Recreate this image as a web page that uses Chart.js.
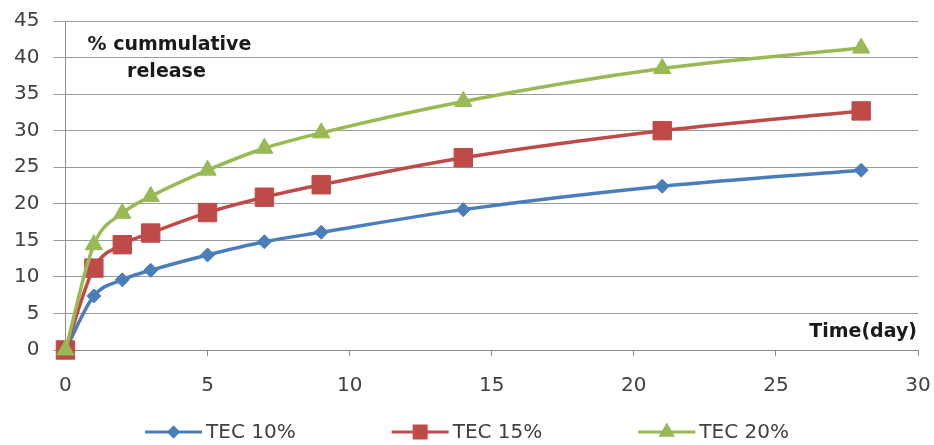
<!DOCTYPE html>
<html>
<head>
<meta charset="utf-8">
<script src="https://cdn.jsdelivr.net/npm/chart.js@4.4.1/dist/chart.umd.min.js"></script>
<style>
  html, body { margin: 0; padding: 0; background: #fff; }
  #wrap { width: 934px; height: 445px; }
</style>
</head>
<body>
<div id="wrap"><canvas id="chart"></canvas></div>
<script>
const days = [0, 1, 2, 3, 5, 7, 9, 14, 21, 28];
const tec10 = [0, 7.4, 9.6, 10.9, 13.0, 14.8, 16.1, 19.2, 22.4, 24.6];
const tec15 = [0, 11.2, 14.4, 16.0, 18.8, 20.9, 22.6, 26.3, 30.0, 32.7];
const tec20 = [0, 14.4, 18.7, 21.0, 24.6, 27.6, 29.7, 34.0, 38.5, 41.3];
const seriesNames = ["TEC 10%", "TEC 15%", "TEC 20%"];
const xTicks = [0, 5, 10, 15, 20, 25, 30];
const yTicks = [0, 5, 10, 15, 20, 25, 30, 35, 40, 45];

const FONT = "'DejaVu Sans', sans-serif";
const TEXT = "#404040";
const colors = ["#4a7ebb", "#be4b48", "#98b954"];
const styles = [
  { pointStyle: "rectRot", radius: 7 },
  { pointStyle: "rect", radius: 13 },
  { pointStyle: "triangle", radius: 10 }
];

function toPoints(vals) {
  return days.map((d, i) => ({ x: d, y: vals[i] }));
}

// axis captions sit inside the plot, like the original
const axisLabels = {
  id: "axisLabels",
  afterDraw(chart) {
    const { ctx, chartArea } = chart;
    ctx.save();
    ctx.fillStyle = "#1a1a1a";
    ctx.font = "bold 19px " + FONT;
    ctx.textAlign = "center";
    ctx.textBaseline = "middle";
    ctx.fillText("% cummulative", chartArea.left + 104, chartArea.top + 24);
    ctx.fillText("release", chartArea.left + 101, chartArea.top + 51);
    ctx.textAlign = "right";
    ctx.fillText("Time(day)", chartArea.right - 1, chartArea.bottom - 18);
    ctx.restore();
  }
};

// legend with line + marker swatches, spread across the bottom
const lineLegend = {
  id: "lineLegend",
  afterDraw(chart) {
    const { ctx, width, height } = chart;
    const swatch = 57, gap = 4, spacing = 96;
    ctx.save();
    ctx.font = "20px " + FONT;
    ctx.textBaseline = "middle";
    const items = chart.data.datasets.map((ds) => ({
      ds, w: swatch + gap + ctx.measureText(ds.label).width
    }));
    const total = items.reduce((s, it) => s + it.w, 0) + spacing * (items.length - 1);
    let x = (width - total) / 2;
    const y = height - 13;
    items.forEach((it, i) => {
      const c = it.ds.borderColor;
      ctx.strokeStyle = c;
      ctx.fillStyle = c;
      ctx.lineWidth = 3;
      ctx.beginPath();
      ctx.moveTo(x, y);
      ctx.lineTo(x + swatch, y);
      ctx.stroke();
      Chart.helpers.drawPoint(ctx, {
        pointStyle: styles[i].pointStyle,
        radius: styles[i].radius * 0.65,
        rotation: 0,
        borderWidth: 1
      }, x + swatch / 2, y);
      ctx.fillStyle = TEXT;
      ctx.fillText(it.ds.label, x + swatch + gap, y + 1);
      x += it.w + spacing;
    });
    ctx.restore();
  }
};

const datasets = [tec10, tec15, tec20].map((vals, i) => ({
  label: seriesNames[i],
  data: toPoints(vals),
  order: 2 - i, // later series painted on top, as in the original
  clip: false,
  showLine: true,
  borderColor: colors[i],
  backgroundColor: colors[i],
  borderWidth: 3.5,
  cubicInterpolationMode: "monotone",
  pointStyle: styles[i].pointStyle,
  pointRadius: styles[i].radius,
  pointHoverRadius: styles[i].radius,
  pointBorderWidth: 1,
  pointBorderColor: colors[i],
  pointBackgroundColor: colors[i]
}));

new Chart(document.getElementById("chart"), {
  type: "scatter",
  data: { datasets },
  plugins: [axisLabels, lineLegend],
  options: {
    responsive: true,
    maintainAspectRatio: false,
    animation: false,
    layout: { padding: { left: 0, right: 16, top: 21, bottom: 29 } },
    plugins: {
      tooltip: { enabled: false },
      legend: { display: false }
    },
    scales: {
      x: {
        type: "linear",
        min: 0,
        max: 30,
        afterBuildTicks: (axis) => { axis.ticks = xTicks.map(v => ({ value: v })); },
        afterFit: (axis) => { axis.paddingRight = 0; axis.paddingLeft = 0; },
        ticks: { color: TEXT, font: { family: FONT, size: 20 }, padding: 18 },
        grid: { drawOnChartArea: false, drawTicks: true, tickLength: 6, color: "#8c8c8c" },
        border: { color: "#8c8c8c", width: 1 }
      },
      y: {
        min: 0,
        max: 45,
        afterBuildTicks: (axis) => { axis.ticks = yTicks.map(v => ({ value: v })); },
        afterFit: (axis) => { axis.paddingTop = 0; axis.paddingBottom = 0; },
        ticks: { color: TEXT, font: { family: FONT, size: 20 }, padding: 14 },
        grid: { color: "#9a9a9a", tickLength: 12, drawTicks: true },
        border: { color: "#8c8c8c", width: 1 }
      }
    }
  }
});
</script>
</body>
</html>
